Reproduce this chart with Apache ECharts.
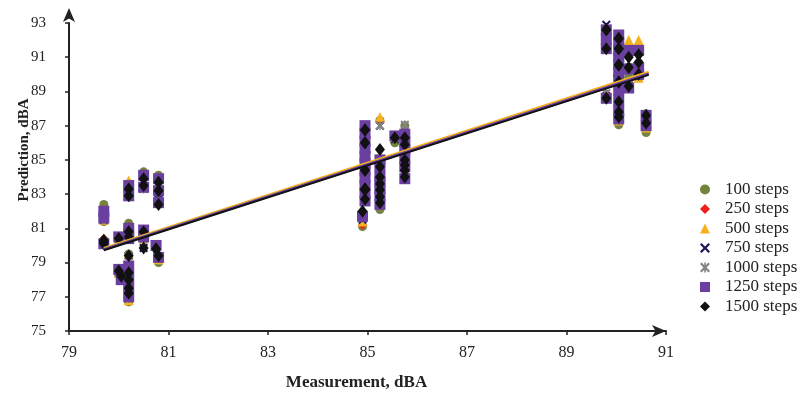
<!DOCTYPE html>
<html>
<head>
<meta charset="utf-8">
<script src="https://cdn.jsdelivr.net/npm/echarts@6/dist/echarts.min.js"></script>
<style>
  html, body { margin: 0; padding: 0; background: #fff; }
  #chart { width: 804px; height: 394px; }
</style>
</head>
<body>
<div id="chart"></div>
<script>
// Measured noise level for each sample (x)
const measurement = [
  79.7, 79.7, 79.7, 80.0, 80.0, 80.05, 80.2, 80.2, 80.2, 80.2, 80.2, 80.2, 80.2, 80.2,
  80.5, 80.5, 80.5, 80.5, 80.8, 80.8, 80.8, 80.75, 80.8,
  84.95, 84.95, 84.95, 84.95, 84.95, 84.95, 84.9, 85.25, 85.25, 85.25, 85.25, 85.25,
  85.55, 85.75, 85.75, 85.75, 85.75,
  89.8, 89.8, 89.8, 90.05, 90.05, 90.05, 90.05, 90.05, 90.05, 90.05,
  90.25, 90.25, 90.25, 90.45, 90.45, 90.45, 90.6, 90.6,
  84.95, 84.95, 84.95, 84.95, 84.95, 85.25, 85.25, 85.75, 85.75,
  90.05, 90.05, 90.05, 90.05, 89.8, 80.2
];

// Predictions per training length (y)
const pred100 = [
  82.4, 81.4, 80.3, 80.4, 78.3, 78.0, 83.6, 82.9, 81.3, 80.4, 79.5, 78.6, 77.8, 76.7,
  84.3, 83.4, 80.9, 80.5, 84.1, 83.2, 82.6, 79.9, 79.0,
  86.9, 86.0, 85.2, 84.4, 83.5, 82.6, 81.1, 87.3, 84.6, 84.0, 83.2, 82.1,
  86.0, 87.0, 85.8, 84.4, 83.9,
  92.5, 91.6, 88.7, 92.2, 91.5, 90.6, 89.7, 88.4, 87.05, 87.8,
  89.85, 90.4, 89.4, 91.6, 90.4, 89.9, 87.7, 86.6,
  86.4, 85.7, 84.7, 83.9, 83.1, 83.6, 82.8, 86.0, 85.2,
  91.8, 91.1, 90.1, 89.2, 92.1, 78.3
];
const pred250 = [
  82.1, 81.6, 80.4, 80.5, 78.6, 78.1, 83.7, 83.0, 81.1, 80.5, 79.4, 78.8, 77.9, 76.9,
  84.2, 83.5, 80.9, 80.5, 84.0, 83.3, 82.7, 80.0, 79.3,
  87.0, 86.1, 85.3, 84.4, 83.6, 82.7, 81.2, 87.2, 84.6, 84.0, 83.3, 82.5,
  86.3, 86.6, 85.8, 84.5, 84.0,
  92.6, 91.7, 88.9, 92.2, 91.4, 90.6, 89.8, 88.5, 87.4, 87.9,
  91.3, 90.4, 89.5, 91.5, 90.5, 89.9, 87.6, 87.0,
  86.6, 85.6, 84.8, 84.0, 83.0, 83.7, 82.9, 86.1, 85.1,
  91.9, 91.0, 90.2, 89.1, 92.0, 78.2
];
const pred500 = [
  82.0, 81.5, 80.4, 80.4, 78.4, 78.0, 83.8, 83.0, 81.0, 80.5, 79.5, 78.7, 77.8, 76.8,
  84.1, 83.4, 80.8, 80.4, 83.9, 83.2, 82.6, 80.0, 79.2,
  86.9, 86.1, 85.2, 84.3, 83.5, 82.6, 81.4, 87.5, 84.7, 84.0, 83.2, 82.4,
  86.3, 86.6, 85.8, 84.4, 84.0,
  92.5, 91.6, 88.7, 91.7, 91.5, 90.6, 89.7, 88.5, 87.3, 87.9,
  92.0, 90.4, 89.4, 92.0, 90.5, 89.8, 87.6, 86.9,
  86.5, 85.6, 84.8, 83.9, 83.0, 83.7, 82.9, 86.0, 85.1,
  91.8, 91.0, 90.1, 89.1, 92.0, 78.2
];
const pred750 = [
  81.6, 81.5, 80.1, 80.4, 78.5, 78.0, 83.5, 82.9, 81.0, 80.6, 79.4, 78.6, 77.8, 76.9,
  84.0, 83.4, 80.7, 79.85, 83.8, 83.1, 82.7, 79.9, 79.3,
  86.9, 86.0, 85.1, 84.4, 83.4, 82.6, 81.5, 87.0, 84.6, 84.0, 83.3, 82.5,
  86.2, 86.6, 85.8, 84.4, 84.0,
  92.9, 91.6, 88.7, 92.2, 91.5, 90.6, 89.8, 88.4, 87.4, 87.9,
  91.2, 90.4, 89.3, 91.4, 90.5, 89.9, 87.6, 87.0,
  86.5, 85.7, 84.8, 84.0, 83.1, 83.7, 82.9, 86.1, 85.1,
  91.9, 91.0, 90.2, 89.1, 92.1, 78.2
];
const pred1000 = [
  81.9, 81.6, 80.2, 80.5, 78.4, 78.1, 83.4, 83.0, 81.0, 80.5, 79.4, 78.6, 77.8, 76.9,
  84.0, 83.3, 80.8, 80.4, 83.8, 83.2, 82.6, 79.9, 79.3,
  86.8, 86.0, 85.2, 84.4, 83.5, 82.6, 81.6, 87.0, 84.5, 84.0, 83.2, 82.5,
  86.3, 87.05, 85.8, 84.4, 84.0,
  92.6, 91.6, 88.9, 92.2, 91.5, 90.6, 89.7, 88.5, 87.3, 87.9,
  91.3, 90.4, 89.4, 91.4, 90.6, 89.9, 87.6, 87.0,
  86.6, 85.6, 84.8, 83.9, 83.0, 83.7, 82.9, 86.0, 85.1,
  91.8, 91.0, 90.1, 89.1, 92.0, 78.2
];
const pred1250 = [
  82.0, 81.6, 80.1, 80.5, 78.6, 78.0, 83.5, 82.9, 81.0, 80.4, 80.7, 78.8, 77.6, 77.0,
  84.1, 83.4, 80.9, 80.5, 83.9, 83.2, 82.5, 80.0, 79.3,
  87.0, 86.1, 85.2, 84.4, 83.5, 82.6, 81.7, 85.0, 84.6, 84.0, 83.3, 82.4,
  86.4, 86.5, 85.6, 84.6, 83.9,
  92.6, 91.5, 88.6, 92.3, 91.4, 90.6, 89.7, 88.5, 87.4, 87.9,
  91.4, 90.3, 89.2, 91.4, 90.4, 90.0, 87.6, 87.0,
  86.55, 85.65, 84.8, 83.95, 83.05, 83.7, 82.9, 86.05, 85.1,
  91.85, 91.0, 90.15, 89.1, 92.05, 78.2
];
const pred1500 = [
  80.2, 80.3, 80.1, 80.4, 78.5, 78.2, 83.3, 82.9, 80.8, 80.5, 79.4, 78.4, 77.5, 77.2,
  83.9, 83.5, 80.8, 79.85, 83.7, 83.2, 82.4, 79.8, 79.4,
  86.75, 86.0, 84.4, 83.25, 83.3, 82.7, 82.0, 85.6, 84.6, 84.0, 83.25, 82.85,
  86.3, 86.3, 85.0, 84.4, 84.0,
  92.6, 91.5, 88.6, 92.1, 91.5, 90.55, 89.55, 88.4, 87.5, 87.8,
  91.0, 90.4, 89.3, 91.15, 90.7, 90.0, 87.6, 87.15,
  86.75, 86.0, 84.4, 83.25, 83.3, 83.6, 82.5, 85.9, 84.7,
  92.1, 91.5, 90.55, 89.55, 92.6, 78.0
];

// Linear trend line per series: start/end (x, y)
const trendX = [79.7, 90.65];
const trend100 = [79.8, 90.0];
const trend250 = [79.82, 90.08];
const trend500 = [79.85, 90.15];
const trend750 = [79.75, 90.0];
const trend1000 = [79.8, 90.02];
const trend1250 = [79.76, 90.05];
const trend1500 = [79.72, 89.97];

const seriesNames = ["100 steps", "250 steps", "500 steps", "750 steps", "1000 steps", "1250 steps", "1500 steps"];
const xTicks = [79, 81, 83, 85, 87, 89, 91];
const yTicks = [75, 77, 79, 81, 83, 85, 87, 89, 91, 93];

const X_PATH = "path://M0,1.6 L1.6,0 L5,3.4 L8.4,0 L10,1.6 L6.6,5 L10,8.4 L8.4,10 L5,6.6 L1.6,10 L0,8.4 L3.4,5 Z";
const STAR_PATH = X_PATH + " M4.2,0 L5.8,0 L5.8,10 L4.2,10 Z";

const styles = [
  { color: "#73843f", symbol: "circle", size: 9 },
  { color: "#f21d1d", symbol: "diamond", size: 9 },
  { color: "#f5b21e", symbol: "triangle", size: 10 },
  { color: "#1c1c5c", symbol: X_PATH, size: 9 },
  { color: "#858585", symbol: STAR_PATH, size: 9 },
  { color: "#6a3fa0", symbol: "rect", size: 11 },
  { color: "#111111", symbol: "diamond", size: [10, 13] },
];
const preds = [pred100, pred250, pred500, pred750, pred1000, pred1250, pred1500];
const trends = [trend100, trend250, trend500, trend750, trend1000, trend1250, trend1500];
const trendColors = ["#73843f", "#f06a9a", "#f5b21e", "#1c1c5c", "#858585", "#6a3fa0", "#111111"];

const chart = echarts.init(document.getElementById("chart"));

const scatterSeries = seriesNames.map((name, i) => ({
  name: name,
  type: "scatter",
  symbol: styles[i].symbol,
  symbolSize: styles[i].size,
  itemStyle: { color: styles[i].color, opacity: 1 },
  data: measurement.map((m, k) => [m, preds[i][k]]),
  z: 2 + i,
  silent: true,
}));

const lineSeries = trends.map((t, i) => ({
  name: "trend " + seriesNames[i],
  type: "line",
  symbol: "none",
  lineStyle: { color: trendColors[i], width: 2 },
  data: [[trendX[0], t[0]], [trendX[1], t[1]]],
  z: 20 + i,
  silent: true,
}));

const serif = "'Liberation Serif', 'Times New Roman', serif";

chart.setOption({
  animation: false,
  backgroundColor: "#fff",
  textStyle: { fontFamily: serif },
  grid: { left: 69, right: 138, top: 23, bottom: 63, containLabel: false, outerBoundsMode: "none" },
  legend: {
    data: seriesNames.map((n, i) => ({ name: n, icon: styles[i].symbol })),
    orient: "vertical",
    left: 695,
    top: 176,
    itemWidth: 10,
    itemHeight: 10,
    itemGap: 2.5,
    textStyle: { fontFamily: serif, fontSize: 17, color: "#222", lineHeight: 16, padding: [0, 0, 0, 10] },
  },
  xAxis: {
    type: "value",
    min: xTicks[0],
    max: xTicks[xTicks.length - 1],
    interval: 2,
    name: "Measurement, dBA",
    nameLocation: "middle",
    nameGap: 43,
    nameMoveOverlap: false,
    nameTextStyle: { fontFamily: serif, fontWeight: "bold", fontSize: 17, color: "#222", padding: [0, 22, 0, 0] },
    axisLine: { lineStyle: { color: "#222", width: 2 }, symbol: ["none", "arrow"], symbolSize: [9, 14], symbolOffset: [0, 0] },
    axisTick: { length: 4, lineStyle: { color: "#222", width: 1.5 } },
    axisLabel: { fontFamily: serif, fontSize: 16, color: "#222", margin: 14 },
    splitLine: { show: false },
  },
  yAxis: {
    type: "value",
    min: yTicks[0],
    max: yTicks[yTicks.length - 1],
    interval: 2,
    name: "Prediction, dBA",
    nameLocation: "middle",
    nameGap: 37,
    nameMoveOverlap: false,
    nameTextStyle: { fontFamily: serif, fontWeight: "bold", fontSize: 15, color: "#222", padding: [0, 0, 0, 54] },
    axisLine: { lineStyle: { color: "#222", width: 2 }, symbol: ["none", "arrow"], symbolSize: [9, 14], symbolOffset: [0, 15] },
    axisTick: { length: 4, lineStyle: { color: "#222", width: 1.5 } },
    axisLabel: { fontFamily: serif, fontSize: 15, color: "#222", margin: 23 },
    splitLine: { show: false },
  },
  series: scatterSeries.concat(lineSeries),
});
</script>
</body>
</html>
